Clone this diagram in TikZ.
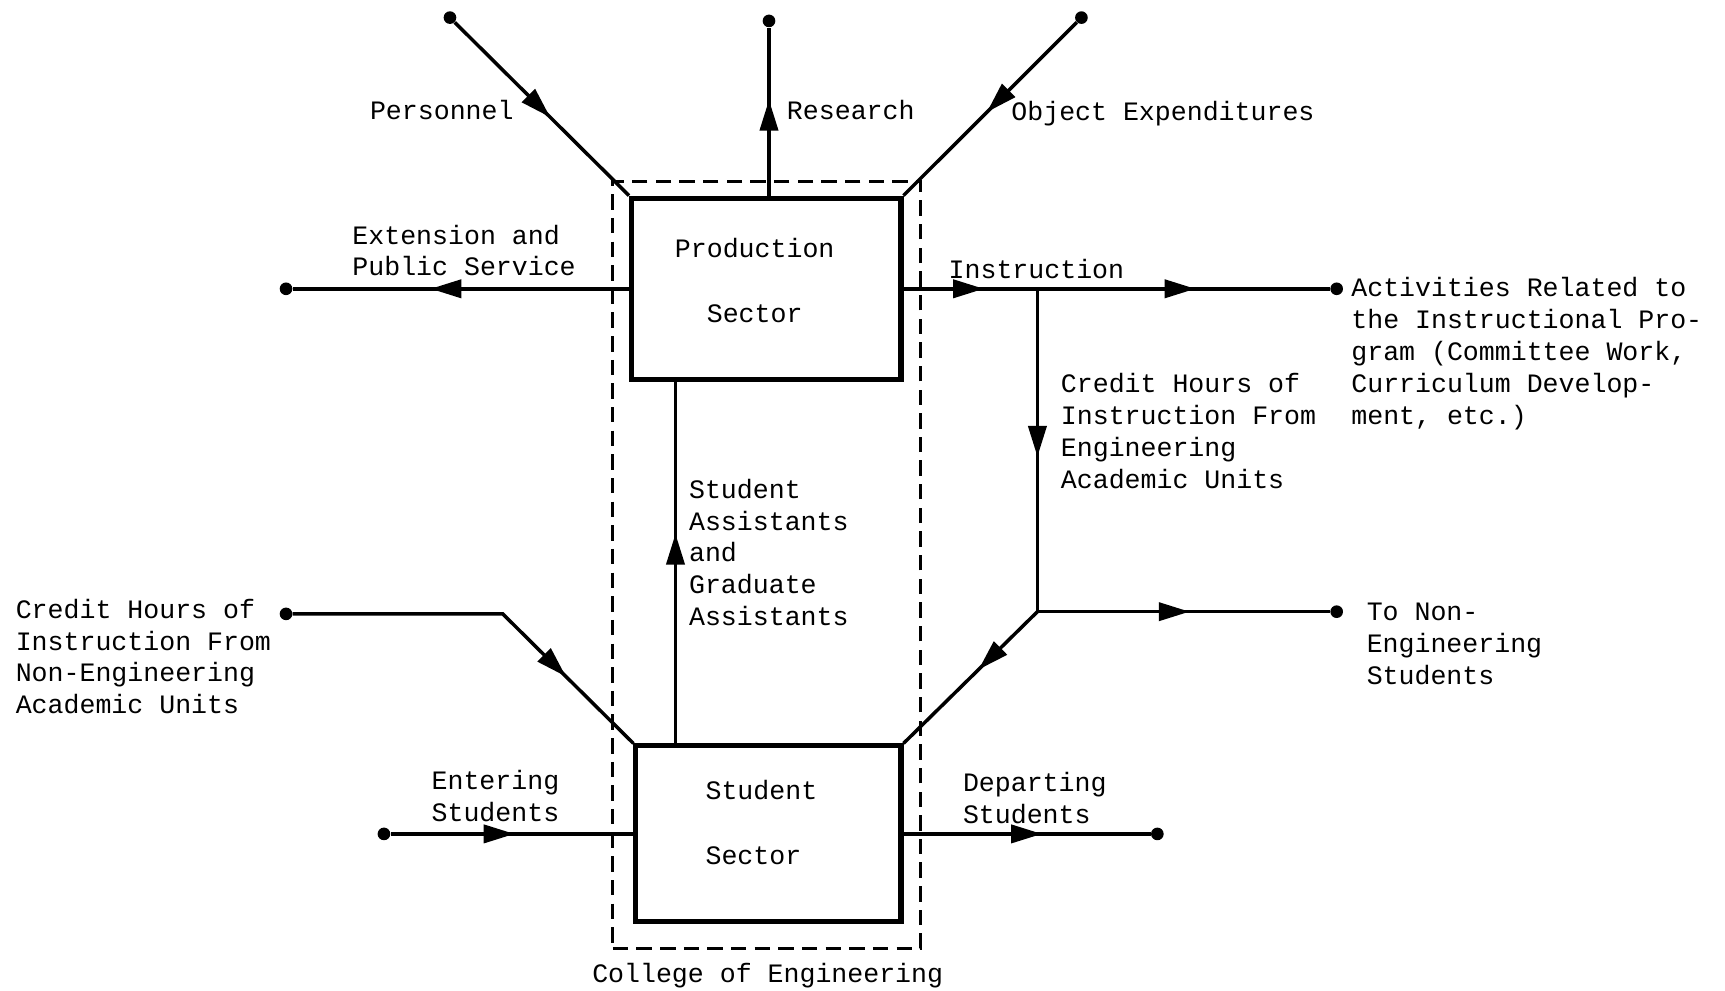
\documentclass[tikz,border=0pt]{standalone}
\usepackage{fontspec}
\newfontfamily\tw{Liberation Mono}
\usetikzlibrary{arrows.meta,decorations.markings}
\begin{document}
\begin{tikzpicture}[x=0.02cm,y=-0.02cm,
  txt/.style={font=\tw\fontsize{13.75}{16.5}\selectfont, inner sep=0pt, align=left, anchor=north west},
  boxtxt/.style={font=\tw\fontsize{13.75}{33.6}\selectfont, inner sep=0pt, anchor=north},
  sector/.style={draw, line width=2.6pt, inner sep=0pt},
  college/.style={draw, line width=1.4pt, dash pattern=on 0.28cm off 0.15cm, inner sep=0pt},
  flow/.style={line width=1.8pt},
  dot/.style={circle, fill, inner sep=0pt, minimum size=0.23cm},
  midarrow/.style={postaction={decorate}, decoration={markings,
      mark=at position #1 with {\arrow{Triangle[length=0.56cm,width=0.33cm]}}}},
]
\useasboundingbox (0,0) rectangle (1568,900);

% frame of the college and its two sectors
\node[college, minimum width=5.6cm, minimum height=13.94cm] (coe) at (697,513.5) {};
\node[sector, minimum width=4.9cm, minimum height=3.3cm] (prod) at (696.5,262.5) {};
\node[sector, minimum width=4.82cm, minimum height=3.2cm] (stud) at (698.5,758) {};

% end points of the flows
\node[dot] (dPers) at (409,16) {};
\node[dot] (dRes)  at (699,19) {};
\node[dot] (dObj)  at (983,16) {};
\node[dot] (dExt)  at (260,262.5) {};
\node[dot] (dAct)  at (1215,262.5) {};
\node[dot] (dNon)  at (1215,556) {};
\node[dot] (dCrd)  at (260,558) {};
\node[dot] (dEnt)  at (349,758) {};
\node[dot] (dDep)  at (1052,758) {};
\coordinate (jInst) at (943,262.5);
\coordinate (jNon)  at (943,556);
\coordinate (bCrd)  at (457,558);
\coordinate (saX)   at (614,500);

% flows
\draw[flow, midarrow=0.55] (dPers) -- (prod.north west);
\draw[flow, midarrow=0.57] (prod.north -| dRes) -- (dRes);
\draw[flow, midarrow=0.52] (dObj) -- (prod.north east);
\draw[flow, midarrow=0.59] (prod.west) -- (dExt);
\draw[flow, midarrow=0.6]  (prod.east) -- (jInst);
\draw[flow, midarrow=0.54] (jInst) -- (dAct);
\draw[flow, midarrow=0.52] (jInst) -- (jNon);
\draw[flow, midarrow=0.52] (jNon) -- (dNon);
\draw[flow, midarrow=0.44] (jNon) -- (stud.north east);
\draw[flow, midarrow=0.76] (dCrd) -- (bCrd) -- (stud.north west);
\draw[flow, midarrow=0.58] (stud.north -| saX) -- (prod.south -| saX);
\draw[flow, midarrow=0.51] (dEnt) -- (stud.west);
\draw[flow, midarrow=0.56] (stud.east) -- (dDep);

% labels
\node[boxtxt, align=center] (tProd) at (686,216) {Production\\Sector};
\node[boxtxt, align=left, anchor=north west] (tStud) at (641,709) {Student\\Sector};
\node[txt] (tPers) at (336,91) {Personnel};
\node[txt] (tRes)  at (715,91) {Research};
\node[txt] (tObj)  at (919,92) {Object Expenditures};
\node[txt] (tExt)  at (320,204) {Extension and\\Public Service};
\node[txt] (tInst) at (862,235) {Instruction};
\node[txt] (tAct)  at (1228,252) {Activities Related to\\the Instructional Pro-\\gram (Committee Work,\\Curriculum Develop-\\ment, etc.)};
\node[txt] (tEng)  at (964,339) {Credit Hours of\\Instruction From\\Engineering\\Academic Units};
\node[txt] (tSA)   at (626,435) {Student\\Assistants\\and\\Graduate\\Assistants};
\node[txt] (tNonE) at (14,544) {Credit Hours of\\Instruction From\\Non-Engineering\\Academic Units};
\node[txt] (tTo)   at (1242,548) {To Non-\\Engineering\\Students};
\node[txt] (tEnt)  at (392,700) {Entering\\Students};
\node[txt] (tDep)  at (875,702) {Departing\\Students};
\node[txt] (tCoe)  at (538,875) {College of Engineering};
\end{tikzpicture}
\end{document}
